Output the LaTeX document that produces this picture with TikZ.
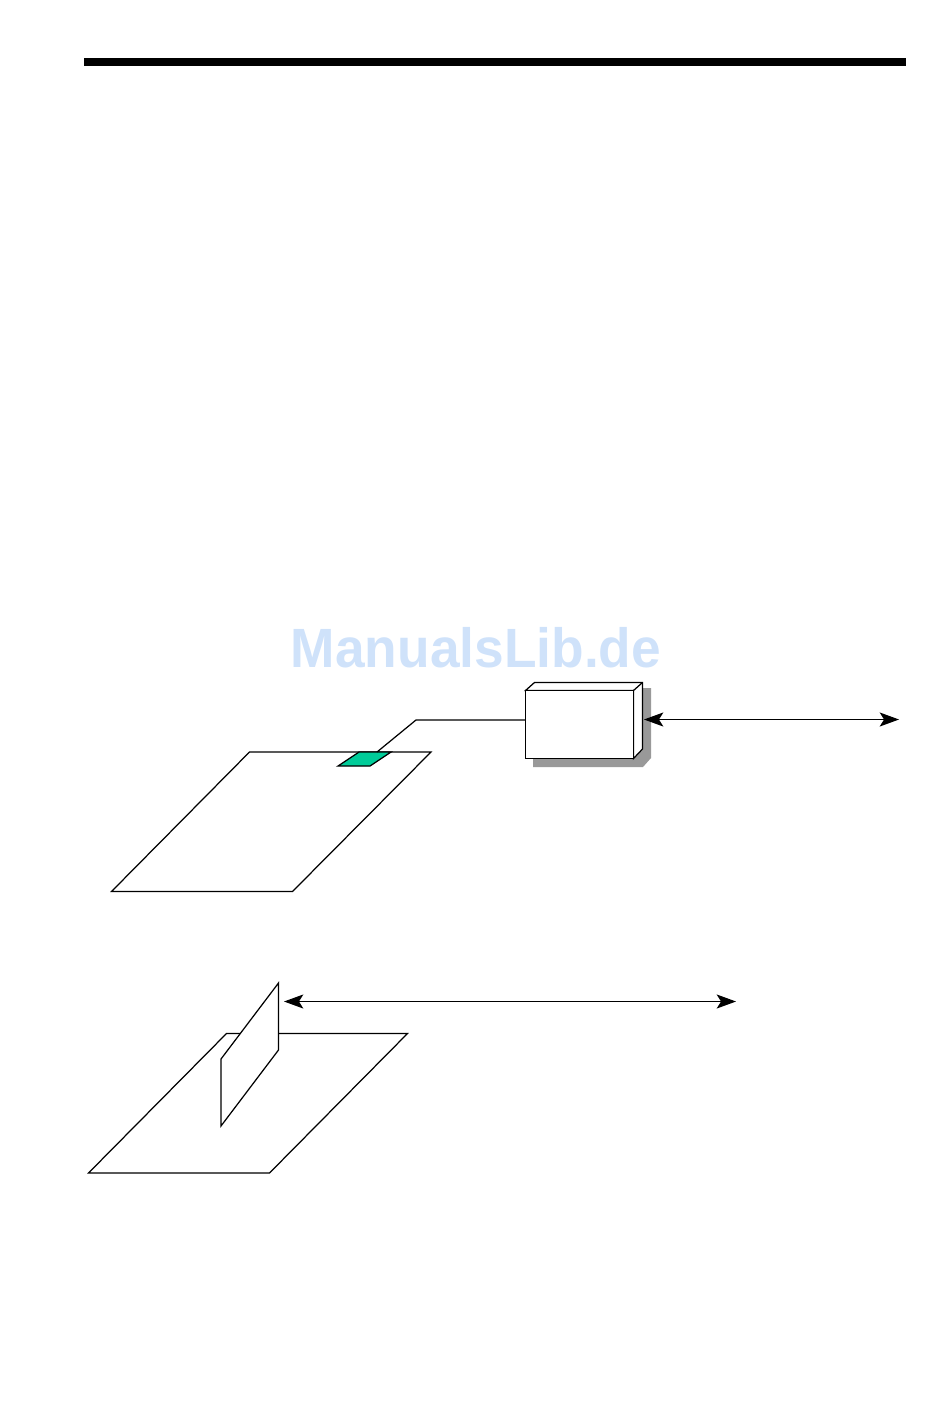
\documentclass[tikz,border=0pt]{standalone}
\usepackage{fontspec}
\newfontfamily\markfont[FakeStretch=0.963]{Liberation Sans}
\usetikzlibrary{positioning,arrows.meta,calc}
\definecolor{PadGreen}{RGB}{0,204,153}
\definecolor{ShadowGrey}{RGB}{153,153,153}
\definecolor{MarkBlue}{RGB}{207,226,250}

\begin{document}
\begin{tikzpicture}[x=0.02cm, y=-0.02cm]
\tikzset{
  thinline/.style={draw=black, line width=0.7pt, line join=miter},
  plate/.style={thinline, fill=white},
  unitbox/.style={thinline, fill=white, minimum width=2.16cm, minimum height=1.36cm, inner sep=0pt, outer sep=0pt},
  arr/.style={{Stealth[length=11pt, width=8pt, inset=2.5pt]}-{Stealth[length=11pt, width=8pt, inset=2.5pt]}, line width=0.7pt},
  wmark/.style={font=\markfont\bfseries\fontsize{31.5}{34}\selectfont, text=MarkBlue, inner sep=0pt}
}
  \useasboundingbox (0,0) rectangle (950,1403);
  \fill[black] (84,58) rectangle (906,66);
  \node[wmark] (mark) at (476,648) {ManualsLib.de};

  % upper plate with pad
  \draw[plate] (249.5,752) -- (431,752) -- (292.5,891.5) -- (111.5,891.5) -- cycle;
  \draw[thinline, fill=PadGreen] (359,752) -- (391,752) -- (370,766) -- (338,766) -- cycle;

  % unit with shadow
  \fill[ShadowGrey] (533,688) -- (651,688) -- (651,758) -- (643,767) -- (533,767) -- cycle;
  \draw[plate] (525.5,690.5) -- (534.5,682.5) -- (642.5,682.5) -- (642.5,749) -- (633.5,758.5) -- (633.5,690.5) -- cycle;
  \draw[thinline] (633.5,690.5) -- (642.5,682.5);
  \node[unitbox] (unit) at (579.5,724.5) {};

  \coordinate (padtop) at (377,752);
  \coordinate (wirebend) at (416,720);
  \draw[thinline] (padtop) -- (wirebend) -- (wirebend -| unit.west);

  \coordinate (unitend) at (644,719.5);
  \coordinate (farend) at (899,719.5);
  \draw[arr] (unitend) -- (farend);

  % lower plate with card
  \draw[plate] (226.5,1033.5) -- (407.5,1033.5) -- (269.5,1173) -- (88.5,1173) -- cycle;
  \draw[plate] (278.5,983) -- (278.5,1050) -- (221,1126) -- (221,1059) -- cycle;

  \coordinate (cardend) at (284,1001.5);
  \coordinate (rangeend) at (736,1001.5);
  \draw[arr] (cardend) -- (rangeend);
\end{tikzpicture}
\end{document}
